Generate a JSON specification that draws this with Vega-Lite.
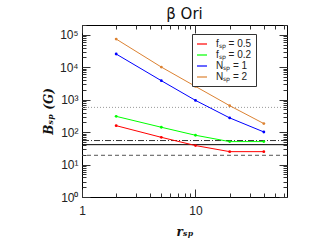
{
  "$schema": "https://vega.github.io/schema/vega-lite/v6.json",
  "width": 205,
  "height": 172,
  "autosize": "none",
  "padding": {"left": 82, "top": 25, "right": 25, "bottom": 52},
  "background": "white",
  "config": {"view": {"stroke": "black", "strokeWidth": 1}, "font": "Liberation Sans"},
  "title": {"text": "β Ori", "fontSize": 15, "fontWeight": "normal", "font": "DejaVu Sans", "offset": -3, "color": "#111"},
  "datasets": {
    "series": [
      {"r": 2, "B": 158, "case": "fₛₚ = 0.5"},
      {"r": 5, "B": 69, "case": "fₛₚ = 0.5"},
      {"r": 10, "B": 38.5, "case": "fₛₚ = 0.5"},
      {"r": 20, "B": 25, "case": "fₛₚ = 0.5"},
      {"r": 40, "B": 25, "case": "fₛₚ = 0.5"},
      {"r": 2, "B": 306, "case": "fₛₚ = 0.2"},
      {"r": 5, "B": 141, "case": "fₛₚ = 0.2"},
      {"r": 10, "B": 80, "case": "fₛₚ = 0.2"},
      {"r": 20, "B": 51, "case": "fₛₚ = 0.2"},
      {"r": 40, "B": 51, "case": "fₛₚ = 0.2"},
      {"r": 2, "B": 25500, "case": "Nₛₚ = 1"},
      {"r": 5, "B": 3840, "case": "Nₛₚ = 1"},
      {"r": 10, "B": 950, "case": "Nₛₚ = 1"},
      {"r": 20, "B": 274, "case": "Nₛₚ = 1"},
      {"r": 40, "B": 101, "case": "Nₛₚ = 1"},
      {"r": 2, "B": 73800, "case": "Nₛₚ = 2"},
      {"r": 5, "B": 10100, "case": "Nₛₚ = 2"},
      {"r": 10, "B": 2560, "case": "Nₛₚ = 2"},
      {"r": 20, "B": 653, "case": "Nₛₚ = 2"},
      {"r": 40, "B": 183, "case": "Nₛₚ = 2"}
    ],
    "refs": [
      {"name": "dotted", "B": 578},
      {"name": "dashdot", "B": 55},
      {"name": "solid", "B": 41},
      {"name": "dashed", "B": 19.3}
    ]
  },
  "layer": [
    {
      "data": {"name": "refs"},
      "mark": {"type": "rule", "strokeWidth": 1},
      "encoding": {
        "y": {"field": "B", "type": "quantitative", "scale": {"type": "log", "domain": [1, 200000]}, "axis": null},
        "stroke": {"field": "name", "type": "nominal", "legend": null, "scale": {"domain": ["dotted", "dashdot", "solid", "dashed"], "range": ["#999999", "#333333", "#000000", "#555555"]}},
        "strokeDash": {"field": "name", "type": "nominal", "legend": null, "scale": {"domain": ["dotted", "dashdot", "solid", "dashed"], "range": [[1, 2], [6, 2, 1, 2], [1, 0], [4, 3]]}}
      }
    },
    {
      "data": {"name": "series"},
      "mark": {"type": "line", "strokeWidth": 1},
      "encoding": {
        "x": {"field": "r", "type": "quantitative", "scale": {"type": "log", "domain": [1, 64]},
          "axis": {"orient": "bottom", "values": [1, 2, 3, 4, 5, 6, 7, 8, 9, 10, 20, 30, 40, 50, 60],
            "labelExpr": "datum.value == 1 ? '1' : (datum.value == 10 ? '10' : '')",
            "tickSize": {"condition": {"test": "datum.value == 1 || datum.value == 10", "value": -8}, "value": -4},
            "tickColor": "#333", "domain": false, "grid": false, "labelFontSize": 12, "labelColor": "#222", "labelPadding": 16,
            "labelOverlap": false, "labelFlush": false, "title": "rₛₚ", "titleFont": "DejaVu Serif", "titleFontStyle": "italic", "titleFontWeight": "bold", "titleFontSize": 12, "titlePadding": 6, "titleColor": "#111"}},
        "y": {"field": "B", "type": "quantitative", "scale": {"type": "log", "domain": [1, 200000]},
          "axis": {"orient": "left", "values": [1, 2, 3, 4, 5, 6, 7, 8, 9, 10, 20, 30, 40, 50, 60, 70, 80, 90, 100, 200, 300, 400, 500, 600, 700, 800, 900, 1000, 2000, 3000, 4000, 5000, 6000, 7000, 8000, 9000, 10000, 20000, 30000, 40000, 50000, 60000, 70000, 80000, 90000, 100000, 200000],
            "labelExpr": "indexof([1,10,100,1000,10000,100000], datum.value) >= 0 ? '10' + ['⁰','¹','²','³','⁴','⁵'][indexof([1,10,100,1000,10000,100000], datum.value)] : ''",
            "tickSize": {"condition": {"test": "indexof([1,10,100,1000,10000,100000], datum.value) >= 0", "value": -8}, "value": -4},
            "tickColor": "#333", "domain": false, "grid": false, "labelFontSize": 12, "labelColor": "#222", "labelPadding": 12,
            "labelOverlap": false, "labelFlush": false, "title": "Bₛₚ (G)", "titleFont": "DejaVu Serif", "titleFontStyle": "italic", "titleFontWeight": "bold", "titleFontSize": 12, "titlePadding": 4, "titleColor": "#111"}},
        "color": {"field": "case", "type": "nominal",
          "scale": {"domain": ["fₛₚ = 0.5", "fₛₚ = 0.2", "Nₛₚ = 1", "Nₛₚ = 2"], "range": ["#ff0000", "#00ff00", "#0000ff", "#dc8232"]},
          "legend": {"orient": "none", "legendX": 110, "legendY": 9, "title": null, "symbolType": "stroke", "symbolStrokeWidth": 1.2, "symbolSize": 100, "labelFontSize": 10, "labelColor": "#222", "labelOffset": 8, "strokeColor": "#333", "fillColor": "white", "padding": 4, "rowPadding": 0}}
      }
    },
    {
      "data": {"name": "series"},
      "mark": {"type": "point", "filled": true, "size": 8, "opacity": 1},
      "encoding": {
        "x": {"field": "r", "type": "quantitative", "scale": {"type": "log", "domain": [1, 64]},
          "axis": {"orient": "top", "values": [1, 2, 3, 4, 5, 6, 7, 8, 9, 10, 20, 30, 40, 50, 60], "labels": false, "title": null, "domain": false, "grid": false,
            "tickColor": "#333", "tickSize": {"condition": {"test": "datum.value == 1 || datum.value == 10", "value": -8}, "value": -4}}},
        "y": {"field": "B", "type": "quantitative", "scale": {"type": "log", "domain": [1, 200000]},
          "axis": {"orient": "right", "values": [1, 2, 3, 4, 5, 6, 7, 8, 9, 10, 20, 30, 40, 50, 60, 70, 80, 90, 100, 200, 300, 400, 500, 600, 700, 800, 900, 1000, 2000, 3000, 4000, 5000, 6000, 7000, 8000, 9000, 10000, 20000, 30000, 40000, 50000, 60000, 70000, 80000, 90000, 100000, 200000], "labels": false, "title": null, "domain": false, "grid": false,
            "tickColor": "#333", "tickSize": {"condition": {"test": "indexof([1,10,100,1000,10000,100000], datum.value) >= 0", "value": -8}, "value": -4}}},
        "color": {"field": "case", "type": "nominal", "legend": null}
      }
    }
  ],
  "resolve": {"axis": {"x": "independent", "y": "independent"}}
}
